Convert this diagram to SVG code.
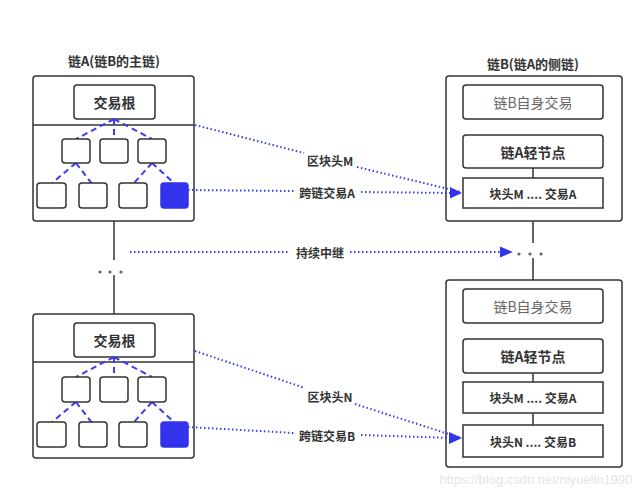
<svg xmlns="http://www.w3.org/2000/svg" width="640" height="496" viewBox="0 0 640 496">
<defs>
<style>
text{font-family:"Noto Sans CJK SC","Liberation Sans",sans-serif;fill:#333;text-anchor:middle;dominant-baseline:central}
.box{fill:#fff;stroke:#333;stroke-width:1.5}
.leaf{fill:#fff;stroke:#333;stroke-width:1.5}
.blue{fill:#3333ee;stroke:#3333ee;stroke-width:1.5}
.tree{stroke:#3c3cee;stroke-width:2;stroke-dasharray:6 4;fill:none}
.solid{stroke:#333;stroke-width:1.5;fill:none}
.dot{stroke:#3c3cee;stroke-width:2;stroke-dasharray:1.5 2.5;fill:none}
.t{font-size:13px;font-weight:bold}
.b{font-size:14px;font-weight:bold}
.s{font-size:12px;font-weight:bold}
.lbl{font-size:12px;font-weight:bold}
.g{font-size:14px;fill:#666}
</style>
</defs>
<rect width="640" height="496" fill="#fff"/>

<g id="chainA-title"><text class="t" x="114" y="60">链A(链B的主链)</text></g>
<g id="chainB-title"><text class="t" x="533" y="63">链B(链A的侧链)</text></g>

<g id="chainA-block1">
<rect class="box" x="33" y="76" width="161" height="145" rx="3"/>
<line class="solid" x1="33" y1="125" x2="194" y2="125"/>
<rect class="box" x="74" y="85" width="81" height="34" rx="3"/>
<text class="b" x="114.5" y="102">交易根</text>
<path class="tree" d="M114,119 L76,139 M114,119 L114,139 M114,119 L152,139 M76,163 L52,183 M76,163 L92,184 M152,163 L134,183 M152,163 L175,184"/>
<rect class="leaf" x="62" y="139" width="28" height="24" rx="3"/>
<rect class="leaf" x="100" y="139" width="28" height="24" rx="3"/>
<rect class="leaf" x="138" y="139" width="28" height="24" rx="3"/>
<rect class="leaf" x="37" y="183" width="29" height="25" rx="3"/>
<rect class="leaf" x="79" y="183" width="28" height="25" rx="3"/>
<rect class="leaf" x="119" y="183" width="28" height="25" rx="3"/>
<rect class="blue" x="161" y="183" width="27" height="25" rx="3"/>
</g>

<g id="chainA-block2">
<rect class="box" x="33" y="314" width="161" height="144" rx="3"/>
<line class="solid" x1="33" y1="362" x2="194" y2="362"/>
<rect class="box" x="74" y="323" width="81" height="34" rx="3"/>
<text class="b" x="114.5" y="340">交易根</text>
<path class="tree" d="M114,357 L76,377 M114,357 L114,377 M114,357 L152,377 M76,402 L52,422 M76,402 L92,423 M152,402 L134,422 M152,402 L175,423"/>
<rect class="leaf" x="62" y="377" width="28" height="25" rx="3"/>
<rect class="leaf" x="100" y="377" width="28" height="25" rx="3"/>
<rect class="leaf" x="138" y="377" width="28" height="25" rx="3"/>
<rect class="leaf" x="37" y="422" width="29" height="25" rx="3"/>
<rect class="leaf" x="79" y="422" width="28" height="25" rx="3"/>
<rect class="leaf" x="119" y="422" width="28" height="25" rx="3"/>
<rect class="blue" x="161" y="422" width="27" height="25" rx="3"/>
</g>

<g id="chainB-block1">
<rect class="box" x="446" y="76" width="176" height="145" rx="3"/>
<rect class="box" x="463" y="85" width="140" height="34" rx="3"/>
<text class="g" x="533" y="102">链B自身交易</text>
<line class="solid" x1="533" y1="168" x2="533" y2="178"/>
<rect class="box" x="463" y="135" width="140" height="33" rx="3"/>
<text class="b" x="533" y="151.5">链A轻节点</text>
<rect class="box" x="463" y="178" width="140" height="30" rx="0"/>
<text class="s" x="533" y="193">块头M ....  交易A</text>
</g>

<g id="chainB-block2">
<rect class="box" x="446" y="280" width="176" height="187" rx="3"/>
<rect class="box" x="463" y="289" width="140" height="34" rx="3"/>
<text class="g" x="533" y="306">链B自身交易</text>
<rect class="box" x="463" y="339" width="140" height="34" rx="3"/>
<text class="b" x="533" y="356">链A轻节点</text>
<line class="solid" x1="533" y1="373" x2="533" y2="382"/>
<rect class="box" x="463" y="382" width="140" height="31" rx="0"/>
<text class="s" x="533" y="397.5">块头M ....  交易A</text>
<line class="solid" x1="533" y1="413" x2="533" y2="425"/>
<rect class="box" x="463" y="425" width="140" height="32" rx="0"/>
<text class="s" x="533" y="441">块头N ....  交易B</text>
</g>

<g id="connectors">
<line class="solid" x1="114" y1="221" x2="114" y2="260"/>
<line class="solid" x1="114" y1="275" x2="114" y2="314"/>
<g fill="#666"><circle cx="100" cy="272" r="1.6"/><circle cx="110" cy="272" r="1.6"/><circle cx="121" cy="272" r="1.6"/>
<circle cx="519" cy="254" r="1.6"/><circle cx="530" cy="254" r="1.6"/><circle cx="541" cy="254" r="1.6"/></g>
<line class="solid" x1="533" y1="221" x2="533" y2="243"/>
<line class="solid" x1="533" y1="258" x2="533" y2="280"/>

<path class="dot" d="M195,125 L304,153 M357,167 L461,192" />
<path d="M450,187 L462,193 L450,198.5 z" fill="#3333ee"/>
<text class="lbl" x="330" y="160">区块头M</text>
<path class="dot" d="M188,190 L294,191 M361,192 L452,193"/>
<text class="lbl" x="327" y="192">跨链交易A</text>

<path class="dot" d="M130,252 L290,252 M350,252 L502,252"/>
<path d="M500,246.5 L513,252 L500,257.5 z" fill="#3333ee"/>
<text class="lbl" x="320" y="252">持续中继</text>

<path class="dot" d="M195,351 L305,388 M355,404 L461,438"/>
<path d="M449,432 L462,438 L449,444 z" fill="#3333ee"/>
<text class="lbl" x="330" y="396">区块头N</text>
<path class="dot" d="M188,427 L294,433 M361,435 L452,438"/>
<text class="lbl" x="327" y="435">跨链交易B</text>
</g>

<text x="536" y="479" style="font-family:'Liberation Sans',sans-serif;font-size:13px;fill:#e4e4e4">https://blog.csdn.net/niyuelin1990</text>
</svg>
